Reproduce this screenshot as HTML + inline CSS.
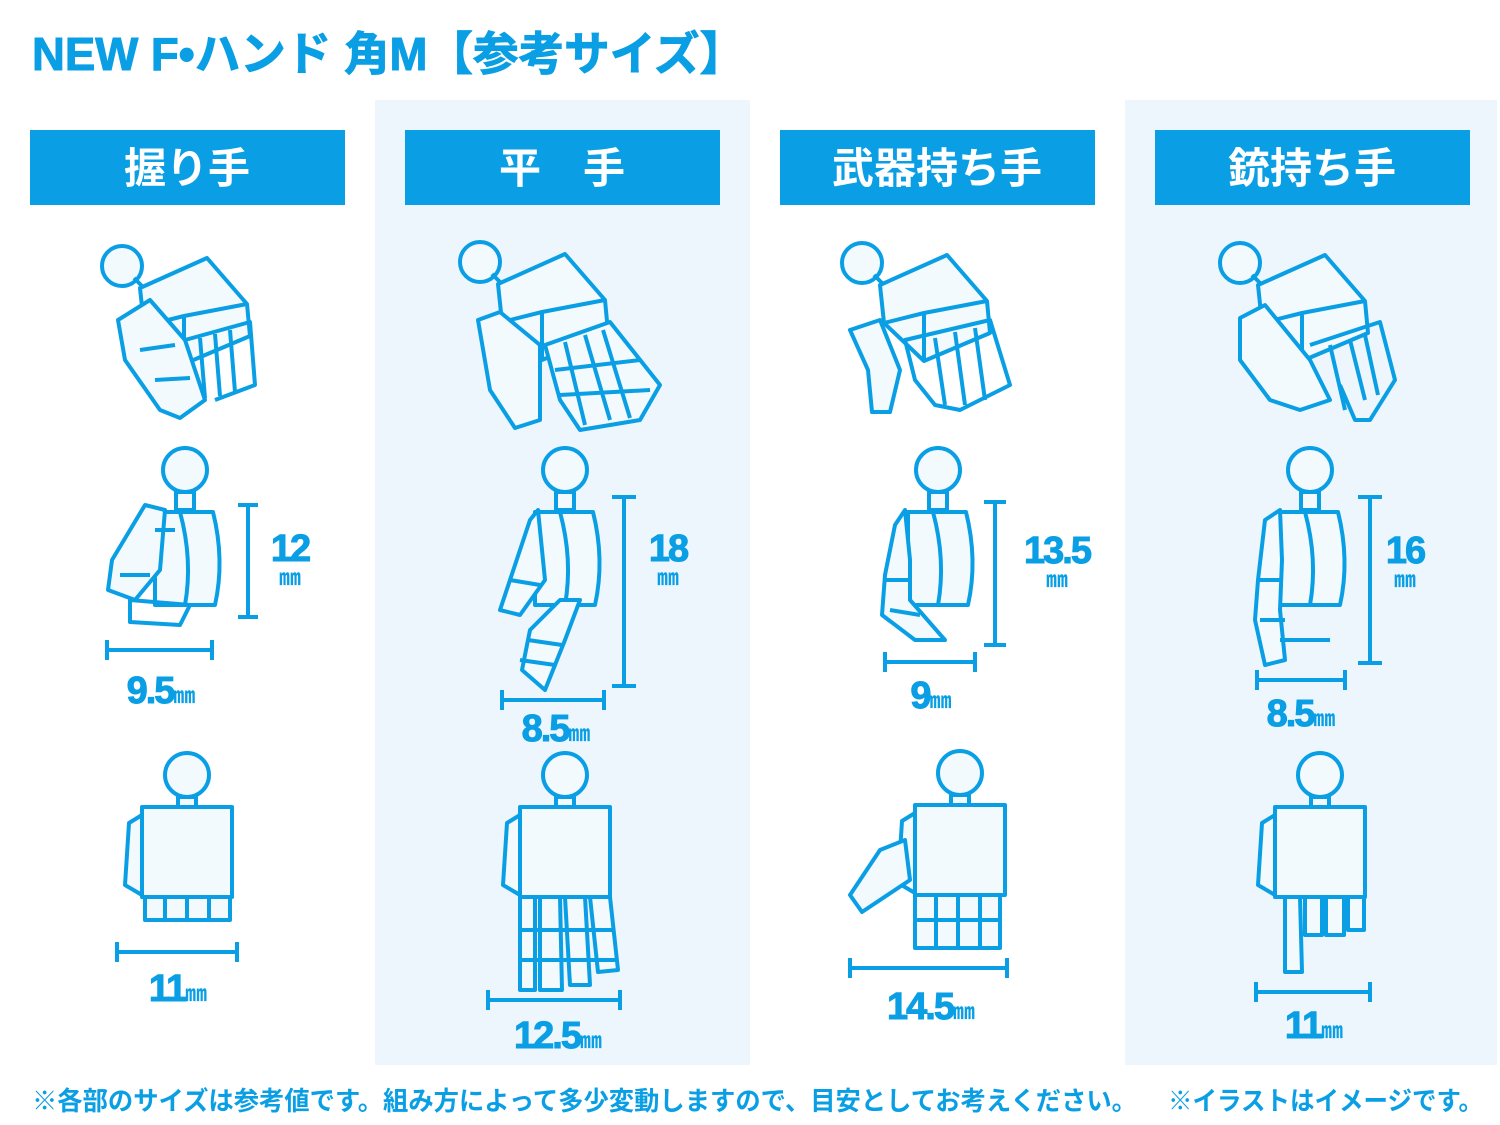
<!DOCTYPE html>
<html><head><meta charset="utf-8"><style>
html,body{margin:0;padding:0;background:#fff;width:1500px;height:1125px;overflow:hidden}
svg{display:block}
text{font-family:"Liberation Sans","Noto Sans CJK JP",sans-serif;font-weight:bold;fill:#0a9fe4}
.h{fill:#fff;font-size:42px}
.hs{fill:none;stroke:#0a9fe4;stroke-width:4;stroke-linejoin:round}
.hf{fill:#f2fafe;stroke:#0a9fe4;stroke-width:4;stroke-linejoin:round}
.d{stroke:#0a9fe4;stroke-width:4;fill:none}
.n{font-size:38px;letter-spacing:-2px;stroke:#0a9fe4;stroke-width:1}
.u{font-size:22px;stroke:none}
</style></head><body>
<svg width="1500" height="1125" viewBox="0 0 1500 1125" xmlns="http://www.w3.org/2000/svg">
<rect x="375" y="100" width="375" height="965" fill="#eef6fd"/>
<rect x="1125" y="100" width="372" height="965" fill="#eef6fd"/>
<text x="32" y="70" font-size="46" textLength="713" lengthAdjust="spacingAndGlyphs" stroke="#0a9fe4" stroke-width="1">NEW F•ハンド 角M【参考サイズ】</text>
<rect x="30" y="130" width="315" height="75" fill="#0a9fe4"/>
<rect x="405" y="130" width="315" height="75" fill="#0a9fe4"/>
<rect x="780" y="130" width="315" height="75" fill="#0a9fe4"/>
<rect x="1155" y="130" width="315" height="75" fill="#0a9fe4"/>
<text class="h" x="187" y="183" text-anchor="middle">握り手</text>
<text class="h" x="562" y="183" text-anchor="middle">平　手</text>
<text class="h" x="937" y="183" text-anchor="middle">武器持ち手</text>
<text class="h" x="1312" y="183" text-anchor="middle">銃持ち手</text>

<defs>
<g id="top">
<circle class="hf" cx="0" cy="0" r="20"/>
<path class="hs" d="M12 12 L24 24"/>
<path class="hf" d="M18 22 L85 -8 L125 38 L128 70 L62 98 L22 60 Z"/>
<path class="hs" d="M22 60 L62 50 L125 38 M62 50 L62 98"/>
</g>
<g id="side">
<circle class="hf" cx="0" cy="0" r="22"/>
<rect class="hf" x="-9" y="22" width="18" height="18"/>
<path class="hf" d="M-30 42 L28 42 Q40 90 30 135 L-30 135 Z"/>
<path class="hs" d="M-5 42 Q8 90 0 135"/>
</g>
<g id="back">
<circle class="hf" cx="0" cy="0" r="22"/>
<rect class="hf" x="-9" y="22" width="18" height="10"/>
<rect class="hf" x="-45" y="32" width="90" height="90"/>
<path class="hf" d="M-45 40 L-58 48 L-62 110 L-45 120 Z"/>
</g>
</defs>

<use href="#top" x="122" y="266"/>
<path class="hf" d="M118 320 L150 300 L185 340 L205 400 L180 418 L160 410 L125 360 Z"/>
<path class="hs" d="M185 340 L250 322 L255 385 L215 400 M200 338 L205 398 M215 334 L220 396 M230 330 L235 392 M140 350 L175 345 M155 380 L190 378"/>
<use href="#side" x="185" y="470"/>
<path class="hf" d="M145 505 L165 510 L160 570 L135 600 L108 590 L112 560 Z"/>
<path class="hs" d="M120 575 L150 575 M130 600 L190 605 L180 625 L130 622 Z M155 530 L175 530"/>
<use href="#back" x="187" y="775"/>
<path class="hf" d="M145 897 L230 897 L230 920 L145 920 Z"/>
<path class="hs" d="M165 897 V920 M187 897 V920 M209 897 V920"/>

<use href="#top" x="480" y="262"/>
<path class="hf" d="M478 320 L500 312 L540 345 L540 420 L515 428 L490 390 Z"/>
<path class="hf" d="M545 345 L610 322 L660 385 L640 420 L580 430 L560 400 Z"/>
<path class="hs" d="M565 342 L585 425 M585 335 L610 420 M603 330 L630 418 M555 370 L640 360 M560 395 L650 390"/>
<use href="#side" x="565" y="470"/>
<path class="hf" d="M538 510 L530 520 L510 580 L500 610 L520 615 L545 580 Z"/>
<path class="hf" d="M560 600 L580 600 L565 640 L545 690 L522 670 L530 630 Z"/>
<path class="hs" d="M510 580 L540 585 M528 640 L562 645 M520 660 L555 665"/>
<use href="#back" x="565" y="775"/>
<path class="hf" d="M520 897 L535 897 L535 990 L520 990 Z M540 897 L560 897 L562 990 L540 990 Z M565 897 L585 897 L590 985 L570 985 Z M590 897 L610 897 L618 970 L598 972 Z"/>
<path class="hs" d="M518 930 H615 M518 960 H617"/>

<use href="#top" x="862" y="263"/>
<path class="hf" d="M850 330 L880 320 L900 370 L890 412 L872 412 L868 370 Z"/>
<path class="hs" d="M905 340 L990 320 L1010 385 L960 410 L935 405 L915 380 Z M935 338 L945 405 M955 332 L965 405 M975 328 L985 400"/>
<use href="#side" x="938" y="470"/>
<path class="hf" d="M905 510 L895 525 L885 575 L882 615 L915 640 L945 640 L910 600 L910 560 Z"/>
<path class="hs" d="M885 580 L910 580 M890 610 L920 615"/>
<use href="#back" x="960" y="773"/>
<path class="hf" d="M905 840 L880 850 L850 895 L862 912 L910 880 Z"/>
<path class="hf" d="M915 895 L1000 895 L1000 948 L915 948 Z"/>
<path class="hs" d="M936 895 V948 M958 895 V948 M980 895 V948 M915 920 H1000"/>

<use href="#top" x="1240" y="263"/>
<path class="hf" d="M1240 318 L1265 305 L1310 360 L1330 400 L1300 410 L1270 400 L1240 360 Z"/>
<path class="hs" d="M1310 345 L1380 322 L1395 380 L1370 420 L1355 420 L1340 385 M1330 345 L1345 410 M1350 340 L1365 400 M1365 335 L1378 395"/>
<use href="#side" x="1310" y="470"/>
<path class="hf" d="M1280 510 L1265 520 L1258 580 L1255 620 L1265 665 L1285 660 L1280 610 L1282 560 Z"/>
<path class="hs" d="M1258 580 L1282 580 M1260 620 L1285 620 M1280 640 L1330 640"/>
<use href="#back" x="1320" y="775"/>
<path class="hf" d="M1285 897 L1300 897 L1302 972 L1285 972 Z M1305 897 L1322 897 L1322 935 L1305 935 Z M1326 897 L1344 897 L1344 935 L1326 935 Z M1348 897 L1364 897 L1364 930 L1348 930 Z"/>

<g class="d">
<path d="M248 505 V617 M238 505 H258 M238 617 H258"/>
<path d="M107 650 H212 M107 640 V660 M212 640 V660"/>
<path d="M117 952 H237 M117 942 V962 M237 942 V962"/>
<path d="M624 497 V686 M612 497 H636 M612 686 H636"/>
<path d="M502 700 H604 M502 690 V710 M604 690 V710"/>
<path d="M488 1000 H620 M488 990 V1010 M620 990 V1010"/>
<path d="M995 502 V645 M984 502 H1006 M984 645 H1006"/>
<path d="M885 662 H975 M885 652 V672 M975 652 V672"/>
<path d="M850 968 H1007 M850 958 V978 M1007 958 V978"/>
<path d="M1370 497 V663 M1358 497 H1382 M1358 663 H1382"/>
<path d="M1257 680 H1345 M1257 670 V690 M1345 670 V690"/>
<path d="M1256 992 H1370 M1256 982 V1002 M1370 982 V1002"/>
</g>
<g>
<text class="n" x="290" y="561" text-anchor="middle">12</text><text class="u" x="290" y="585" text-anchor="middle">㎜</text>
<text class="n" x="160" y="703" text-anchor="middle">9.5<tspan class="u">㎜</tspan></text>
<text class="n" x="177" y="1001" text-anchor="middle">11<tspan class="u">㎜</tspan></text>
<text class="n" x="668" y="561" text-anchor="middle">18</text><text class="u" x="668" y="585" text-anchor="middle">㎜</text>
<text class="n" x="555" y="741" text-anchor="middle">8.5<tspan class="u">㎜</tspan></text>
<text class="n" x="557" y="1048" text-anchor="middle">12.5<tspan class="u">㎜</tspan></text>
<text class="n" x="1057" y="563" text-anchor="middle">13.5</text><text class="u" x="1057" y="587" text-anchor="middle">㎜</text>
<text class="n" x="930" y="708" text-anchor="middle">9<tspan class="u">㎜</tspan></text>
<text class="n" x="930" y="1019" text-anchor="middle">14.5<tspan class="u">㎜</tspan></text>
<text class="n" x="1405" y="563" text-anchor="middle">16</text><text class="u" x="1405" y="587" text-anchor="middle">㎜</text>
<text class="n" x="1300" y="726" text-anchor="middle">8.5<tspan class="u">㎜</tspan></text>
<text class="n" x="1313" y="1038" text-anchor="middle">11<tspan class="u">㎜</tspan></text>
</g>
<text x="32" y="1110" font-size="26" textLength="1105" lengthAdjust="spacingAndGlyphs">※各部のサイズは参考値です。組み方によって多少変動しますので、目安としてお考えください。</text>
<text x="1168" y="1110" font-size="26" textLength="315" lengthAdjust="spacingAndGlyphs">※イラストはイメージです。</text>
</svg>
</body></html>
